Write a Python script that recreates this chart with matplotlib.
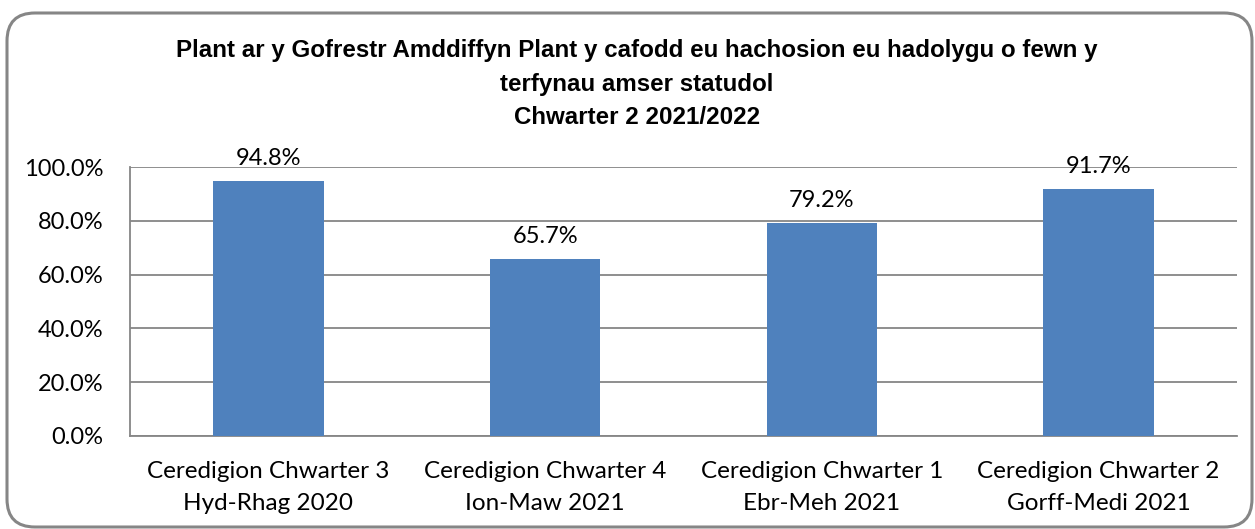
import matplotlib
matplotlib.use("Agg")
import matplotlib.pyplot as plt
from matplotlib.patches import FancyBboxPatch

# chart data
categories = ["Ceredigion Chwarter 3\nHyd-Rhag 2020",
              "Ceredigion Chwarter 4\nIon-Maw 2021",
              "Ceredigion Chwarter 1\nEbr-Meh 2021",
              "Ceredigion Chwarter 2\nGorff-Medi 2021"]
values = [94.8, 65.7, 79.2, 91.7]
y_ticks = [0, 20, 40, 60, 80, 100]
title_lines = ["Plant ar y Gofrestr Amddiffyn Plant y cafodd eu hachosion eu hadolygu o fewn y",
               "terfynau amser statudol",
               "Chwarter 2 2021/2022"]

W, H = 1255, 529
fig = plt.figure(figsize=(W / 100, H / 100), dpi=100)
body_font = ["Lato", "DejaVu Sans"]

# rounded outer frame, behind the axes
frame = FancyBboxPatch((0.07, 0.02), 12.45, 5.14,
                       boxstyle="round,pad=0,rounding_size=0.28",
                       transform=fig.dpi_scale_trans,
                       facecolor="white", edgecolor="#868686", linewidth=2.2,
                       zorder=-5)
fig.patches.append(frame)

# plot area
ax = fig.add_axes([130 / W, 1 - 436 / H, (1237 - 130) / W, (436 - 167) / H])
ax.set_facecolor("none")
x = range(len(categories))
bars = ax.bar(x, values, width=0.4, color="#4F81BD", zorder=3)

ax.set_ylim(0, 100)
ax.set_xlim(-0.5, len(categories) - 0.5)
ax.set_yticks(y_ticks)
ax.set_yticklabels([f"{t:.1f}%" for t in y_ticks], fontsize=17, family=body_font)
ax.set_xticks(list(x))
ax.set_xticklabels(categories, fontsize=17.5, family=body_font, linespacing=1.65)
ax.tick_params(axis="y", length=0, pad=19)
ax.tick_params(axis="x", length=0, pad=18)
ax.grid(axis="y", color="#868686", linewidth=1.3, zorder=0)

for side in ["top", "right"]:
    ax.spines[side].set_visible(False)
for side in ["left", "bottom"]:
    ax.spines[side].set_color("#868686")
    ax.spines[side].set_linewidth(1.3)

# data labels
for b, v in zip(bars, values):
    ax.text(b.get_x() + b.get_width() / 2, v + 4.5, f"{v:.1f}%",
            ha="center", va="bottom", fontsize=17, family=body_font)

# title
for line, ypx in zip(title_lines, [50, 85, 118]):
    fig.text(637 / W, 1 - ypx / H, line, ha="center", va="center",
             fontsize=17.4, fontweight="bold", family="Liberation Sans")

fig.savefig("out.png", dpi=100)
